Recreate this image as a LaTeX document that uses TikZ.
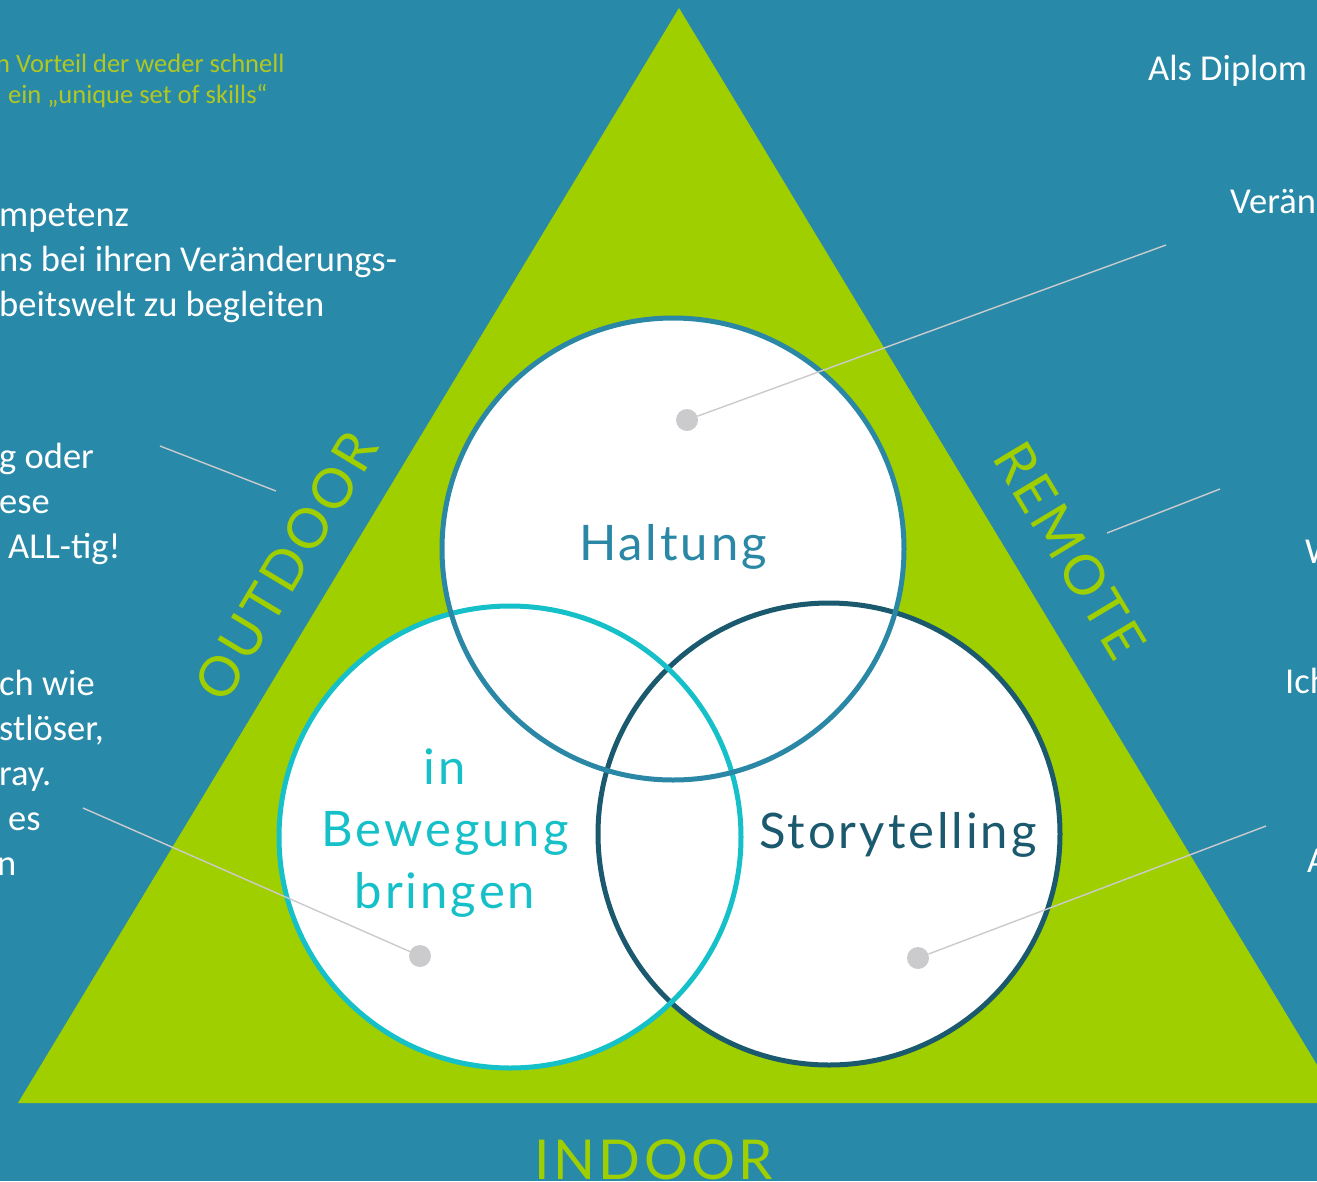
\documentclass[tikz,border=0pt]{standalone}
\usepackage{fontspec}
\setmainfont{Carlito}
\newfontfamily\hand{Lato}[LetterSpace=6]

\definecolor{bg}{HTML}{2889A8}
\definecolor{lime}{HTML}{A0CF00}
\definecolor{ringtop}{HTML}{2A88A6}
\definecolor{ringleft}{HTML}{16C0C8}
\definecolor{ringright}{HTML}{1B5A6E}
\definecolor{pingray}{HTML}{CBCBCD}
\definecolor{note}{HTML}{B2C820}

\tikzstyle{dot} = [circle, fill=pingray, inner sep=0pt, minimum size=22pt]
\tikzstyle{pinline} = [draw=pingray, line width=1.4pt]
\tikzstyle{ring} = [line width=5pt]
\tikzstyle{body} = [text=white, font=\fontsize{36.5}{45}\selectfont, inner sep=0pt, anchor=base west]
\tikzstyle{small} = [text=note, font=\fontsize{26.5}{32}\selectfont, inner sep=0pt, anchor=base west]
\tikzstyle{side} = [text=lime, font=\hand\fontsize{55}{55}\selectfont, inner sep=0pt]
\tikzstyle{ringtext} = [font=\hand\fontsize{49}{62}\selectfont, align=center, inner sep=0pt]

\begin{document}
\begin{tikzpicture}[x=1pt, y=-1pt]
      \useasboundingbox (0,0) rectangle (1317,1181);
      \clip (0,0) rectangle (1317,1181);
      \fill[bg] (0,0) rectangle (1317,1181);

      % big triangle
      \fill[lime] (679,8) -- (18,1103) -- (1340,1103) -- cycle;

      % text on the left, cut at the edge
      \node[small] (n1) at (-4,72) {n Vorteil der weder schnell};
      \node[small] (n2) at (8,103) {ein „unique set of skills“};
      \foreach \t/\y [count=\i] in {mpetenz/226, ns bei ihren Veränderungs-/271, beitswelt zu begleiten/316}
        \node[body] (a\i) at (-1,\y) {\t};
      \foreach \t/\y [count=\i] in {g oder/468, ese/513}
        \node[body] (b\i) at (-1,\y) {\t};
      \node[body] (b3) at (8,558) {ALL-tig!};
      \foreach \t/\y [count=\i] in {ch wie/695, {stlöser,}/740, ray./785}
        \node[body] (c\i) at (-1,\y) {\t};
      \node[body] (c4) at (8,830) {es};
      \node[body] (c5) at (-3,875) {n};

      % text on the right, cut at the edge
      \node[body] (r1) at (1148,80) {Als Diplom};
      \node[body] (r2) at (1230,213) {Verän};
      \node[body] (r3) at (1305,563) {W};
      \node[body] (r4) at (1285,693) {Ich};
      \node[body] (r5) at (1307,872) {A};

      % sides of the triangle
      \node[side, rotate=59] (outdoor) at (286,566) {OUTDOOR};
      \node[side, rotate=-59] (remote) at (1070,550) {REMOTE};
      \node[side] (indoor) at (654,1160) {INDOOR};

      % three rings
      \fill[white] (673,549) circle (231);
      \fill[white] (510,837) circle (231);
      \fill[white] (829,834) circle (231);
      \draw[ring, ringright] (829,834) circle (231);
      \draw[ring, ringleft] (510,837) circle (231);
      \draw[ring, ringtop] (673,549) circle (231);

      \node[ringtext, text=ringtop] (haltung) at (673,547) {Haltung};
      \node[ringtext, text=ringleft] (bewegung) at (445,833) {in\\Bewegung\\bringen};
      \node[ringtext, text=ringright] (story) at (898,835) {Storytelling};

      % pins
      \node[dot] (p1) at (687,420) {};
      \node[dot] (p2) at (420,956) {};
      \node[dot] (p3) at (918,958) {};
      \coordinate (e1) at (1166,245);
      \coordinate (e2) at (83,808);
      \coordinate (e3) at (1266,826);
      \draw[pinline] (p1) -- (e1);
      \draw[pinline] (p2) -- (e2);
      \draw[pinline] (p3) -- (e3);
      \draw[pinline] (160,446) -- (276,491);
      \draw[pinline] (1107,533) -- (1220,489);
    \end{tikzpicture}
\end{document}
